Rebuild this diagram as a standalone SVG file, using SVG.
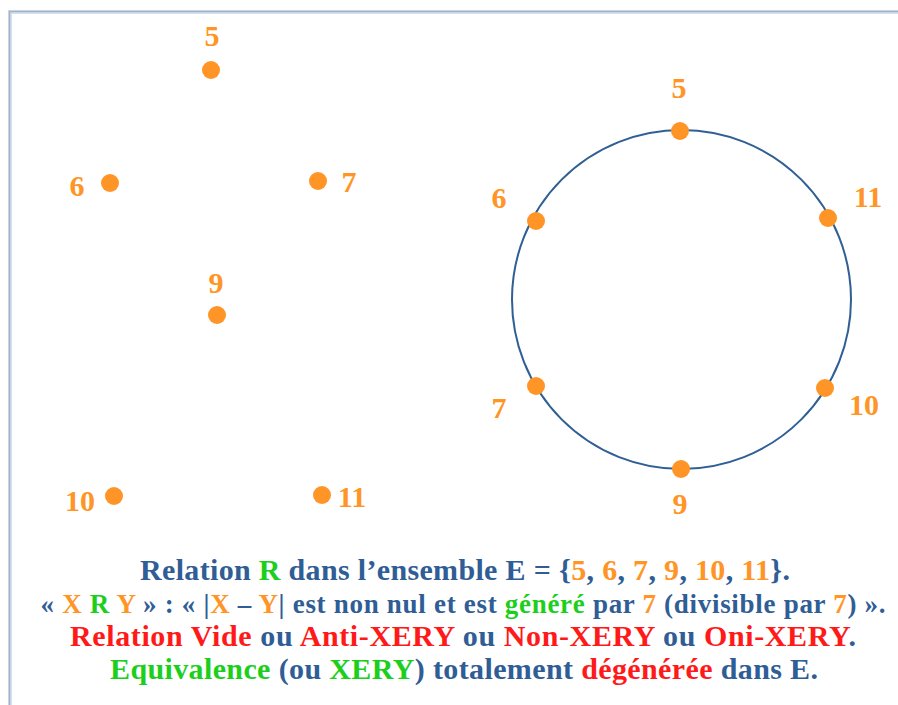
<svg xmlns="http://www.w3.org/2000/svg" width="898" height="705" viewBox="0 0 898 705">
<style>
.num{font-family:"Liberation Serif","Times New Roman",serif;font-weight:bold;font-size:30px;fill:#ff9526;text-anchor:middle}
.dot{fill:#ff9526}
.t{font-family:"Liberation Serif","Times New Roman",serif;font-weight:bold;font-size:30px;fill:#2f5d95;text-anchor:middle}
.o{fill:#ff9526}.g{fill:#1ccf1c}.r{fill:#ff1a1a}
</style>
<rect width="898" height="705" fill="#ffffff"/>
<g id="frame" fill="none">
<path d="M10 705 V12 H898" stroke="#d6e0ec" stroke-width="4"/>
<path d="M9.5 705 V11.5 H898" stroke="#9fb3cc" stroke-width="1.5"/>
</g>
<g id="connectors">
<circle cx="681.5" cy="299.5" r="169.5" fill="none" stroke="#2f5f94" stroke-width="2"/>
</g>
<g id="left-5"><circle class="dot" cx="211" cy="70" r="9"/><text class="num" x="212" y="46">5</text></g>
<g id="left-6"><circle class="dot" cx="110" cy="183" r="9"/><text class="num" x="77" y="196">6</text></g>
<g id="left-7"><circle class="dot" cx="318" cy="181" r="9"/><text class="num" x="349" y="192">7</text></g>
<g id="left-9"><circle class="dot" cx="217" cy="315" r="9"/><text class="num" x="216" y="293">9</text></g>
<g id="left-10"><circle class="dot" cx="114" cy="496" r="9"/><text class="num" x="80" y="511">10</text></g>
<g id="left-11"><circle class="dot" cx="322" cy="495" r="9"/><text class="num" x="352" y="507">11</text></g>
<g id="circ-5"><circle class="dot" cx="680" cy="131" r="9"/><text class="num" x="679" y="98">5</text></g>
<g id="circ-6"><circle class="dot" cx="536" cy="221" r="9"/><text class="num" x="499" y="208">6</text></g>
<g id="circ-11"><circle class="dot" cx="828" cy="218" r="9"/><text class="num" x="868" y="207">11</text></g>
<g id="circ-7"><circle class="dot" cx="536" cy="386" r="9"/><text class="num" x="499" y="418">7</text></g>
<g id="circ-10"><circle class="dot" cx="825" cy="388" r="9"/><text class="num" x="864" y="415">10</text></g>
<g id="circ-9"><circle class="dot" cx="681" cy="469" r="9"/><text class="num" x="680" y="514">9</text></g>
<g id="caption">
<text class="t" x="465" y="580" textLength="650" lengthAdjust="spacing">Relation <tspan class="g">R</tspan> dans l’ensemble E = {<tspan class="o">5</tspan>, <tspan class="o">6</tspan>, <tspan class="o">7</tspan>, <tspan class="o">9</tspan>, <tspan class="o">10</tspan>, <tspan class="o">11</tspan>}.</text>
<text class="t" x="463" y="613" style="font-size:27px" textLength="845" lengthAdjust="spacing">« <tspan class="o">X</tspan> <tspan class="g">R</tspan> <tspan class="o">Y</tspan> »  :  « |<tspan class="o">X</tspan> – <tspan class="o">Y</tspan>| est non nul et est <tspan class="g">généré</tspan> par <tspan class="o">7</tspan> (divisible par <tspan class="o">7</tspan>) ».</text>
<text class="t" x="463" y="646" textLength="786" lengthAdjust="spacing"><tspan class="r">Relation Vide</tspan> ou <tspan class="r">Anti-XERY</tspan> ou <tspan class="r">Non-XERY</tspan> ou <tspan class="r">Oni-XERY</tspan>.</text>
<text class="t" x="464" y="679" textLength="708" lengthAdjust="spacing"><tspan class="g">Equivalence</tspan> (ou <tspan class="g">XERY</tspan>) totalement <tspan class="r">dégénérée</tspan> dans E.</text>
</g>
</svg>
